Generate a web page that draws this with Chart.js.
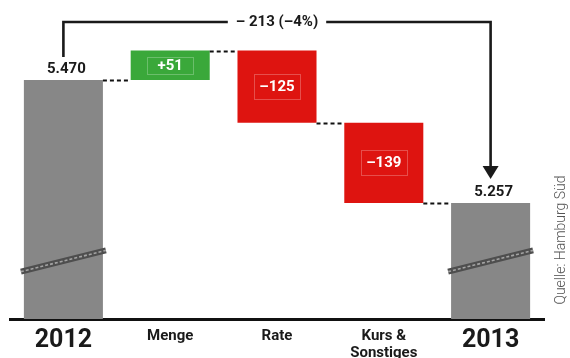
<!DOCTYPE html>
<html>
<head>
<meta charset="utf-8">
<script src="https://cdn.jsdelivr.net/npm/chart.js@4/dist/chart.umd.min.js"></script>
<style>
  html, body { margin: 0; padding: 0; background: #fff; }
  #wrap { width: 570px; height: 358px; position: relative; }
</style>
</head>
<body>
<div id="wrap"><canvas id="c" width="570" height="358"></canvas></div>
<script>
// Waterfall: revenue bridge 2012 -> 2013 (Mio. EUR)
const categories = ['2012', 'Menge', 'Rate', ['Kurs &', 'Sonstiges'], '2013'];
const startTotal = 5470;
const changes = [51, -125, -139];
const endTotal = 5257;
const totalLabels = ['5.470', '5.257'];
const changeLabels = ['+51', '–125', '–139'];
const diffLabel = '– 213 (–4%)';
const sourceLabel = 'Quelle: Hamburg Süd';

// value axis is cut (broken) — it starts well above zero
const axisMin = 5056;
const axisMax = 5574;

const GRAY = '#878787', GREEN = '#3aa83a', RED = '#de1410';
const FONT = 'Roboto, "DejaVu Sans", sans-serif';

// floating ranges for each bar and the running level after each one
const ranges = [[axisMin, startTotal]];
const levels = [startTotal];
let run = startTotal;
changes.forEach(d => { ranges.push([run, run + d]); run += d; levels.push(run); });
ranges.push([axisMin, endTotal]);
levels.push(endTotal);
const colors = [GRAY, ...changes.map(d => d >= 0 ? GREEN : RED), GRAY];

const overlay = {
  id: 'overlay',
  afterDatasetsDraw(chart) {
    const { ctx, scales: { y } } = chart;
    const bars = chart.getDatasetMeta(0).data;
    const top = b => Math.min(b.y, b.base);
    const bottom = b => Math.max(b.y, b.base);
    const last = bars.length - 1;

    ctx.save();

    // dashed connectors between neighbouring bars
    ctx.strokeStyle = '#111';
    ctx.lineWidth = 2.2;
    ctx.setLineDash([4, 3]);
    for (let i = 0; i < last; i++) {
      const a = bars[i], b = bars[i + 1];
      const py = Math.round(y.getPixelForValue(levels[i])) + 0.5;
      ctx.beginPath();
      ctx.moveTo(a.x + a.width / 2, py);
      ctx.lineTo(b.x - b.width / 2, py);
      ctx.stroke();
    }
    ctx.setLineDash([]);

    // axis-break marks on the two total bars
    [bars[0], bars[last]].forEach(b => {
      const cy = y.getPixelForValue(axisMin) - 58;
      const half = b.width / 2 + 3;
      const dy = half * 0.25;
      ctx.save();
      ctx.filter = 'blur(0.6px)';
      ctx.strokeStyle = '#4e4e4e';
      ctx.lineWidth = 6;
      ctx.beginPath();
      ctx.moveTo(b.x - half, cy + dy);
      ctx.lineTo(b.x + half, cy - dy);
      ctx.stroke();
      ctx.strokeStyle = '#a3a3a3';
      ctx.lineWidth = 1.6;
      ctx.setLineDash([3, 2]);
      ctx.beginPath();
      ctx.moveTo(b.x - half, cy + dy);
      ctx.lineTo(b.x + half, cy - dy);
      ctx.stroke();
      ctx.restore();
    });

    // totals above the gray bars
    ctx.fillStyle = '#1a1a1a';
    ctx.font = 'bold 15px ' + FONT;
    ctx.textAlign = 'center';
    ctx.textBaseline = 'middle';
    [[bars[0], totalLabels[0]], [bars[last], totalLabels[1]]].forEach(([b, t]) => {
      ctx.fillText(t, b.x + 3, top(b) - 10.5);
    });

    // change labels inside the coloured bars
    changeLabels.forEach((t, k) => {
      const b = bars[k + 1];
      const cy = (top(b) + bottom(b)) / 2;
      const h = Math.min(25, bottom(b) - top(b) - 12);
      ctx.strokeStyle = 'rgba(255,255,255,0.25)';
      ctx.lineWidth = 1;
      ctx.strokeRect(Math.round(b.x - 23) + 0.5, Math.round(cy - h / 2) + 0.5, 46, Math.round(h));
      ctx.fillStyle = '#fff';
      ctx.font = 'bold 15px ' + FONT;
      ctx.fillText(t, b.x, cy + 0.5);
    });

    // bracket with total difference and arrow
    const x0 = bars[0].x, x1 = bars[last].x;
    const by = top(bars[0]) - 58;
    const midX = (x0 + x1) / 2;
    ctx.font = 'bold 15px ' + FONT;
    const tw = ctx.measureText(diffLabel).width;
    ctx.strokeStyle = '#1a1a1a';
    ctx.lineWidth = 2.6;
    ctx.beginPath();
    ctx.moveTo(x0, top(bars[0]) - 23);
    ctx.lineTo(x0, by);
    ctx.lineTo(midX - tw / 2 - 8, by);
    ctx.moveTo(midX + tw / 2 + 8, by);
    ctx.lineTo(x1, by);
    const tip = top(bars[last]) - 24;
    ctx.lineTo(x1, tip - 12);
    ctx.stroke();
    ctx.fillStyle = '#1a1a1a';
    ctx.beginPath();
    ctx.moveTo(x1 - 8, tip - 13);
    ctx.lineTo(x1 + 8, tip - 13);
    ctx.lineTo(x1, tip);
    ctx.closePath();
    ctx.fill();
    ctx.fillText(diffLabel, midX, by);

    // source note, vertical at the right edge
    ctx.translate(561, 240);
    ctx.rotate(-Math.PI / 2);
    ctx.fillStyle = '#555';
    ctx.font = '300 14px ' + FONT;
    ctx.fillText(sourceLabel, 0, 0);

    ctx.restore();
  }
};

new Chart(document.getElementById('c'), {
  type: 'bar',
  data: {
    labels: categories,
    datasets: [{
      data: ranges,
      backgroundColor: colors,
      borderWidth: 0,
      borderSkipped: false,
      barPercentage: 0.74,
      categoryPercentage: 1
    }]
  },
  options: {
    responsive: false,
    animation: false,
    devicePixelRatio: 1,
    layout: { padding: { top: 20, left: 10, right: 26, bottom: 0 } },
    plugins: { legend: { display: false }, tooltip: { enabled: false } },
    scales: {
      x: {
        grid: { display: false, drawTicks: false },
        border: { display: true, color: '#111', width: 3 },
        afterFit: s => { s.height = 39; },
        ticks: {
          padding: 8.5,
          color: '#1a1a1a',
          maxRotation: 0,
          autoSkip: false,
          font: ctx => (ctx.index === 0 || ctx.index === categories.length - 1)
            ? { family: FONT, size: 25, weight: 'bold', lineHeight: '27px' }
            : { family: FONT, size: 15, weight: 'bold', lineHeight: '17px' }
        }
      },
      y: { display: false, min: axisMin, max: axisMax }
    }
  },
  plugins: [overlay]
});
</script>
</body>
</html>
